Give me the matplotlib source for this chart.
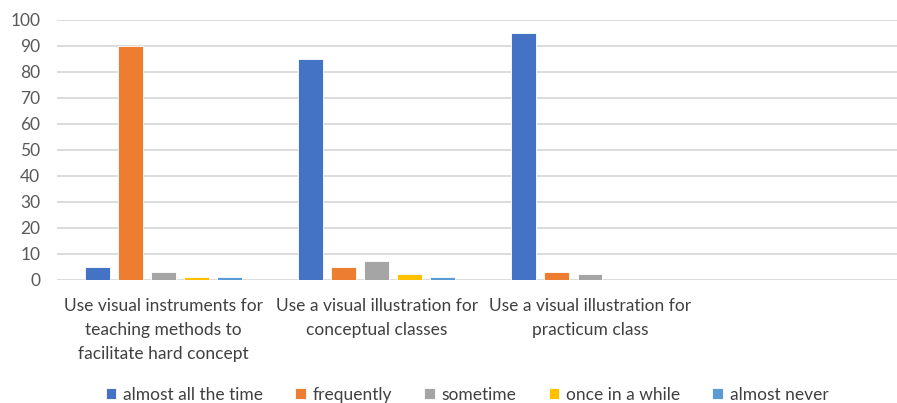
import matplotlib
matplotlib.use("Agg")
import matplotlib.pyplot as plt
import numpy as np

categories = ["Use visual instruments for\nteaching methods to\nfacilitate hard concept",
              "Use a visual illustration for\nconceptual classes",
              "Use a visual illustration for\npracticum class",
              ""]
series_names = ["almost all the time", "frequently", "sometime", "once in a while", "almost never"]
almost_all = [5, 85, 95, 0]
frequently = [90, 5, 3, 0]
sometime = [3, 7, 2, 0]
once_in_a_while = [1, 2, 0, 0]
almost_never = [1, 1, 0, 0]
yticks = list(range(0, 101, 10))

series = [almost_all, frequently, sometime, once_in_a_while, almost_never]
colors = ["#4472C4", "#ED7D31", "#A5A5A5", "#FFC000", "#5B9BD5"]

plt.rcParams['font.family'] = ['Lato', 'DejaVu Sans']
fig = plt.figure(figsize=(8.97, 4.03), dpi=100)
ax = fig.add_axes([57/897, 1 - 279.5/403, 1 - 57/897, (279.5 - 20)/403])

x = np.arange(len(categories))
step = 0.155
width = 0.117
for i, (vals, c, name) in enumerate(zip(series, colors, series_names)):
    ax.bar(x + (i - 2) * step, vals, width=width, color=c, label=name,
           edgecolor="white", linewidth=0.6, zorder=3)

ax.set_ylim(0, 100)
ax.set_xlim(-0.5, 3.44)
ax.set_yticks(yticks)
ax.yaxis.grid(True, color="#D9D9D9", linewidth=1.3, zorder=0)
for s in ax.spines.values():
    s.set_visible(False)
ax.tick_params(axis='y', length=0, labelsize=12.5, labelcolor="#595959", pad=12)
ax.tick_params(axis='x', length=0, labelsize=12.5, labelcolor="#404040", pad=13)
ax.set_xticks(x)
ax.set_xticklabels(categories, linespacing=1.62)

fig.legend(loc='center', bbox_to_anchor=(467/897, 1 - 395/403), ncol=5, frameon=False,
           fontsize=12.5, handlelength=0.6, handleheight=0.6, handletextpad=0.4,
           columnspacing=1.85, labelcolor="#404040")

fig.savefig("out.png", dpi=100)
